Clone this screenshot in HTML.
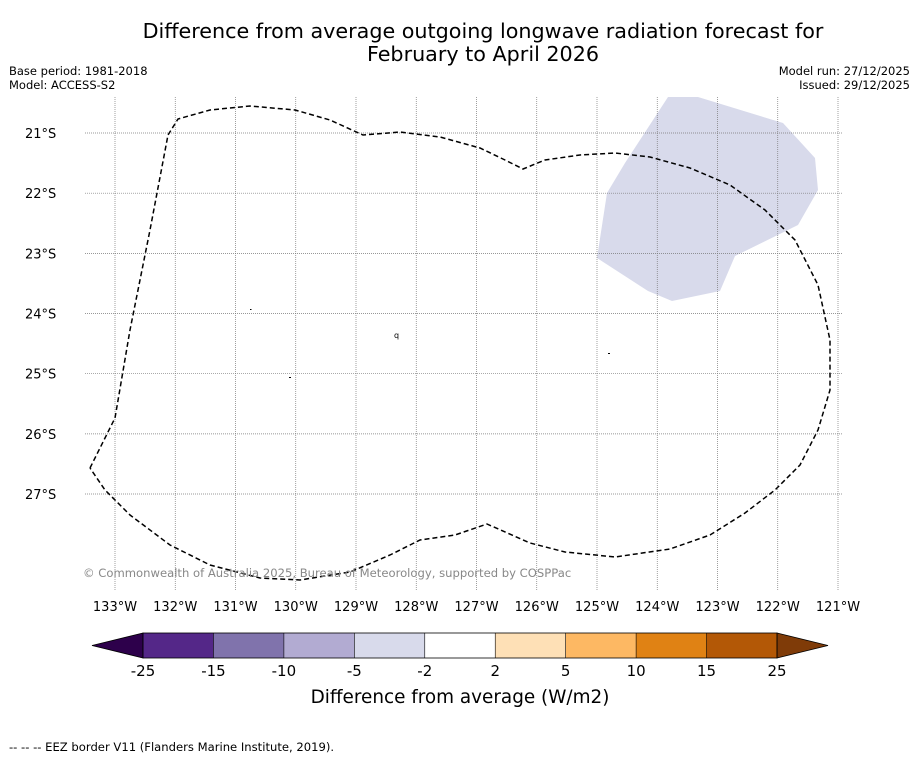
<!DOCTYPE html>
<html><head><meta charset="utf-8"><style>
body{margin:0;background:#fff;font-family:"Liberation Sans","DejaVu Sans",sans-serif;}
svg text{font-family:"DejaVu Sans","Liberation Sans",sans-serif;}
</style></head><body>
<svg width="919" height="758" viewBox="0 0 919 758" xmlns="http://www.w3.org/2000/svg">
<rect width="919" height="758" fill="#fff"/>
<text x="483" y="38" font-size="20.7" text-anchor="middle">Difference from average outgoing longwave radiation forecast for</text>
<text x="483" y="61" font-size="20.7" text-anchor="middle">February to April 2026</text>
<text x="9" y="75" font-size="11.5">Base period: 1981-2018</text>
<text x="9" y="89" font-size="11.5">Model: ACCESS-S2</text>
<text x="910" y="75" font-size="11.5" text-anchor="end">Model run: 27/12/2025</text>
<text x="910" y="89" font-size="11.5" text-anchor="end">Issued: 29/12/2025</text>
<g id="map">
<polygon fill="#d8daeb" points="668,97 698,97 783,123 815,158 818,190 798,225 735,256 720,291 672,301 648,291 597,258 607,193 625,163"/>
<g id="grid"></g>
<polyline fill="none" stroke="#000" stroke-width="1.5" stroke-dasharray="5,3" points="90,468 115,418 130,330 150,230 168,135 178,119 210,110 250,106 295,110 330,120 363,135 400,132 440,137 480,148 505,160 523,169 545,160 580,155 615,153 650,157 690,168 730,185 765,210 795,240 818,285 830,340 830,390 818,430 800,465 775,490 745,513 710,535 670,549 615,557 565,552 530,543 487,524 455,535 420,540 390,555 350,572 300,580 260,578 210,565 170,545 130,515 105,490 90,468"/>
<rect x="250" y="309" width="1.5" height="1" fill="#000"/>
<rect x="289" y="377" width="2" height="1" fill="#000"/>
<rect x="608" y="353" width="2" height="1" fill="#000"/>
<text x="394" y="338" font-size="8">q</text>
<text x="83" y="577" font-size="11.6" fill="#888">© Commonwealth of Australia 2025, Bureau of Meteorology, supported by COSPPac</text>
</g>
<g id="cbar"></g>
<text x="460" y="703" font-size="18.4" text-anchor="middle">Difference from average (W/m2)</text>
<text x="9" y="751" font-size="11.6">--  --  -- EEZ border V11 (Flanders Marine Institute, 2019).</text>
</svg>
<script>
const lons=[133,132,131,130,129,128,127,126,125,124,123,122,121];
const lats=[21,22,23,24,25,26,27];
const cbTicks=["-25","-15","-10","-5","-2","2","5","10","15","25"];
const cbColors=["#542788","#8073ac","#b2abd2","#d8daeb","#ffffff","#fee0b6","#fdb863","#e08214","#b35806"];
const NS="http://www.w3.org/2000/svg";
const xs=l=>115+(133-l)*60.25, ys=l=>133+(l-21)*60.17;
function mk(t,a,p){const e=document.createElementNS(NS,t);for(const k in a)e.setAttribute(k,a[k]);p.appendChild(e);return e;}
const g=document.getElementById('grid');
lons.forEach(l=>{const x=xs(l);
const ln=mk('line',{x1:x,x2:x,y1:97,y2:590,stroke:'#777','stroke-width':0.7,'stroke-dasharray':'1,1'},g);

const t=mk('text',{x:x,y:611,'font-size':13,'text-anchor':'middle'},g);t.textContent=l+'°W';
});
lats.forEach(l=>{const y=ys(l);
const ln=mk('line',{x1:85,x2:843,y1:y,y2:y,stroke:'#777','stroke-width':0.7,'stroke-dasharray':'1,1'},g);

const t=mk('text',{x:25,y:y+5,'font-size':13},g);t.textContent=l+'°S';
});
const c=document.getElementById('cbar');
const x0=143,x1=777,w=(x1-x0)/cbColors.length;
const lt=mk('polygon',{points:`${x0},633 ${x0},658 92,645.5`,fill:'#2d004b',stroke:'#000','stroke-width':0.8},c);

const rt=mk('polygon',{points:`${x1},633 ${x1},658 828,645.5`,fill:'#7f3b08',stroke:'#000','stroke-width':0.8},c);

cbColors.forEach((col,i)=>{const r=mk('rect',{x:x0+i*w,y:633,width:w,height:25,fill:col},c);
});
const o=mk('rect',{x:x0,y:633,width:x1-x0,height:25,fill:'none',stroke:'#000','stroke-width':0.8},c);

cbTicks.forEach((t,i)=>{const x=x0+i*w;
const ln=mk('line',{x1:x,x2:x,y1:633,y2:658,stroke:'#000','stroke-width':0.6},c);

const tx=mk('text',{x:x,y:676,'font-size':15,'text-anchor':'middle'},c);tx.textContent=t;
});
</script>
</body></html>
